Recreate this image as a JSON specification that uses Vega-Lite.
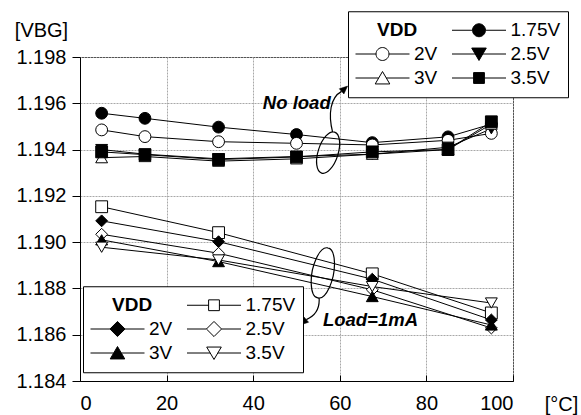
{
  "$schema": "https://vega.github.io/schema/vega-lite/v6.json",
  "width": 433,
  "height": 324,
  "autosize": {"type": "none"},
  "padding": {"left": 80, "top": 57, "right": 68, "bottom": 34},
  "background": "white",
  "config": {
    "font": "Liberation Sans",
    "view": {"stroke": "black", "strokeWidth": 1},
    "axis": {
      "labelFont": "Liberation Sans",
      "titleFont": "Liberation Sans",
      "labelFontSize": 20,
      "titleFontSize": 20,
      "titleFontWeight": "normal",
      "labelColor": "black",
      "titleColor": "black",
      "domainColor": "black",
      "tickColor": "black",
      "gridColor": "#a8a8a8",
      "gridDash": [2, 1],
      "gridWidth": 1
    },
    "legend": {
      "labelFont": "Liberation Sans",
      "labelFontSize": 19,
      "labelColor": "black",
      "labelAlign": "left",
      "direction": "horizontal"
    }
  },
  "datasets": {
    "noload": [
      {"vdd": "1.75V", "t": 5, "v": 1.19557}, {"vdd": "1.75V", "t": 15, "v": 1.19535}, {"vdd": "1.75V", "t": 32, "v": 1.19497}, {"vdd": "1.75V", "t": 50, "v": 1.19465}, {"vdd": "1.75V", "t": 67.5, "v": 1.1943}, {"vdd": "1.75V", "t": 85, "v": 1.19455}, {"vdd": "1.75V", "t": 95, "v": 1.1951},
      {"vdd": "2V", "t": 5, "v": 1.19485}, {"vdd": "2V", "t": 15, "v": 1.19456}, {"vdd": "2V", "t": 32, "v": 1.19434}, {"vdd": "2V", "t": 50, "v": 1.19427}, {"vdd": "2V", "t": 67.5, "v": 1.1942}, {"vdd": "2V", "t": 85, "v": 1.1944}, {"vdd": "2V", "t": 95, "v": 1.1947},
      {"vdd": "2.5V", "t": 5, "v": 1.194}, {"vdd": "2.5V", "t": 15, "v": 1.1938}, {"vdd": "2.5V", "t": 32, "v": 1.1936}, {"vdd": "2.5V", "t": 50, "v": 1.1937}, {"vdd": "2.5V", "t": 67.5, "v": 1.1938}, {"vdd": "2.5V", "t": 85, "v": 1.1941}, {"vdd": "2.5V", "t": 95, "v": 1.1949},
      {"vdd": "3V", "t": 5, "v": 1.19365}, {"vdd": "3V", "t": 15, "v": 1.1937}, {"vdd": "3V", "t": 32, "v": 1.1935}, {"vdd": "3V", "t": 50, "v": 1.1936}, {"vdd": "3V", "t": 67.5, "v": 1.1938}, {"vdd": "3V", "t": 85, "v": 1.194}, {"vdd": "3V", "t": 95, "v": 1.1951},
      {"vdd": "3.5V", "t": 5, "v": 1.1939}, {"vdd": "3.5V", "t": 15, "v": 1.19378}, {"vdd": "3.5V", "t": 32, "v": 1.19357}, {"vdd": "3.5V", "t": 50, "v": 1.19368}, {"vdd": "3.5V", "t": 67.5, "v": 1.1939}, {"vdd": "3.5V", "t": 85, "v": 1.194}, {"vdd": "3.5V", "t": 95, "v": 1.1952}
    ],
    "load": [
      {"vdd": "1.75V", "t": 5, "v": 1.19153}, {"vdd": "1.75V", "t": 32, "v": 1.19041}, {"vdd": "1.75V", "t": 67.5, "v": 1.18863}, {"vdd": "1.75V", "t": 95, "v": 1.18694},
      {"vdd": "2V", "t": 5, "v": 1.19092}, {"vdd": "2V", "t": 32, "v": 1.19002}, {"vdd": "2V", "t": 67.5, "v": 1.1884}, {"vdd": "2V", "t": 95, "v": 1.18664},
      {"vdd": "2.5V", "t": 5, "v": 1.19034}, {"vdd": "2.5V", "t": 32, "v": 1.18952}, {"vdd": "2.5V", "t": 67.5, "v": 1.18794}, {"vdd": "2.5V", "t": 95, "v": 1.18629},
      {"vdd": "3V", "t": 5, "v": 1.1901}, {"vdd": "3V", "t": 32, "v": 1.18916}, {"vdd": "3V", "t": 67.5, "v": 1.18765}, {"vdd": "3V", "t": 95, "v": 1.18642},
      {"vdd": "3.5V", "t": 5, "v": 1.18978}, {"vdd": "3.5V", "t": 32, "v": 1.18923}, {"vdd": "3.5V", "t": 67.5, "v": 1.18808}, {"vdd": "3.5V", "t": 95, "v": 1.18737}
    ]
  },
  "encoding": {
    "x": {
      "field": "t", "type": "quantitative",
      "scale": {"domain": [0, 100], "nice": false},
      "axis": {
        "values": [0, 20, 40, 60, 80, 100],
        "title": "[°C]",
        "grid": true,
        "tickSize": -6,
        "labelPadding": 18,
        "titleX": 481, "titleY": 29,
        "titleAlign": "center", "titleBaseline": "alphabetic"
      }
    },
    "y": {
      "field": "v", "type": "quantitative",
      "scale": {"domain": [1.184, 1.198], "zero": false, "nice": false},
      "axis": {
        "values": [1.184, 1.186, 1.188, 1.19, 1.192, 1.194, 1.196, 1.198],
        "format": ".3f",
        "title": "[VBG]",
        "grid": true,
        "tickSize": 8,
        "labelPadding": 6,
        "titleAngle": 0,
        "titleX": -39, "titleY": -27,
        "titleAlign": "center", "titleBaseline": "middle"
      }
    }
  },
  "layer": [
    {
      "data": {"name": "noload"},
      "mark": {"type": "line", "color": "black", "strokeWidth": 1},
      "encoding": {"detail": {"field": "vdd"}}
    },
    {
      "data": {"name": "load"},
      "mark": {"type": "line", "color": "black", "strokeWidth": 1},
      "encoding": {"detail": {"field": "vdd"}}
    },
    {
      "data": {"name": "noload"},
      "mark": {"type": "point", "filled": true, "stroke": "black", "strokeWidth": 1, "size": 140, "opacity": 1},
      "encoding": {
        "shape": {"field": "vdd", "legend": null, "scale": {"domain": ["1.75V", "2V", "2.5V", "3V", "3.5V"], "range": ["circle", "circle", "triangle-down", "triangle-up", "square"]}},
        "fill": {"field": "vdd", "legend": null, "scale": {"domain": ["1.75V", "2V", "2.5V", "3V", "3.5V"], "range": ["black", "white", "black", "white", "black"]}}
      }
    },
    {
      "data": {"name": "load"},
      "mark": {"type": "point", "filled": true, "stroke": "black", "strokeWidth": 1, "size": 140, "opacity": 1},
      "encoding": {
        "shape": {"field": "vdd", "legend": null, "scale": {"domain": ["1.75V", "2V", "2.5V", "3V", "3.5V"], "range": ["square", "diamond", "diamond", "triangle-up", "triangle-down"]}},
        "fill": {"field": "vdd", "legend": null, "scale": {"domain": ["1.75V", "2V", "2.5V", "3V", "3.5V"], "range": ["white", "black", "white", "black", "white"]}}
      }
    },
    {
      "data": {"name": "noload"},
      "mark": {"type": "point", "filled": true, "stroke": "black", "strokeWidth": 1, "size": 2916, "opacity": 0},
      "encoding": {
        "stroke": {"value": "black"},
        "shape": {
          "field": "vdd",
          "scale": {
            "domain": ["VDD", "1.75V", "2V", "2.5V", "3V", "3.5V"],
            "range": [
              "M0,0",
              "M-1,0H-0.24M0.24,0H1M-0.24,0A0.24,0.24 0 1,0 0.24,0A0.24,0.24 0 1,0 -0.24,0Z",
              "M-1,0H-0.24M0.24,0H1M-0.24,0A0.24,0.24 0 1,0 0.24,0A0.24,0.24 0 1,0 -0.24,0Z",
              "M-1,0H-0.14M0.14,0H1M-0.27,-0.22L0.27,-0.22L0,0.24Z",
              "M-1,0H-0.14M0.14,0H1M0,-0.24L0.27,0.22L-0.27,0.22Z",
              "M-1,0H-0.2M0.2,0H1M-0.2,-0.2H0.2V0.2H-0.2Z"
            ]
          },
          "legend": {
            "title": null, "orient": "none", "legendX": 268, "legendY": -45.75,
            "direction": "horizontal",
            "columns": 2, "columnPadding": 13.5, "rowPadding": 0, "clipHeight": 23.5,
            "symbolSize": 2916, "symbolStrokeWidth": 1, "symbolOpacity": 1,
            "labelAlign": "left",
            "labelOffset": {"expr": "datum.label === 'VDD' ? -33 : 4"},
            "labelFontWeight": {"expr": "datum.label === 'VDD' ? 'bold' : 'normal'"},
            "labelLimit": 300,
            "strokeColor": "black", "fillColor": "white", "padding": 7
          }
        },
        "fill": {
          "field": "vdd",
          "scale": {"domain": ["VDD", "1.75V", "2V", "2.5V", "3V", "3.5V"], "range": ["white", "black", "white", "black", "white", "black"]},
          "legend": {
            "title": null, "orient": "none", "legendX": 268, "legendY": -45.75,
            "direction": "horizontal",
            "columns": 2, "columnPadding": 13.5, "rowPadding": 0, "clipHeight": 23.5,
            "symbolSize": 2916, "symbolStrokeWidth": 1, "symbolOpacity": 1,
            "labelAlign": "left",
            "labelOffset": {"expr": "datum.label === 'VDD' ? -33 : 4"},
            "labelFontWeight": {"expr": "datum.label === 'VDD' ? 'bold' : 'normal'"},
            "labelLimit": 300,
            "strokeColor": "black", "fillColor": "white", "padding": 7
          }
        }
      }
    },
    {
      "data": {"name": "load"},
      "mark": {"type": "point", "filled": true, "stroke": "black", "strokeWidth": 1, "size": 2916, "opacity": 0},
      "encoding": {
        "stroke": {"value": "black"},
        "shape": {
          "field": "vdd",
          "scale": {
            "domain": ["VDD", "1.75V", "2V", "2.5V", "3V", "3.5V"],
            "range": [
              "M0,0",
              "M-1,0H-0.2M0.2,0H1M-0.2,-0.2H0.2V0.2H-0.2Z",
              "M-1,0H-0.28M0.28,0H1M0,-0.28L0.28,0L0,0.28L-0.28,0Z",
              "M-1,0H-0.28M0.28,0H1M0,-0.28L0.28,0L0,0.28L-0.28,0Z",
              "M-1,0H-0.14M0.14,0H1M0,-0.24L0.27,0.22L-0.27,0.22Z",
              "M-1,0H-0.14M0.14,0H1M-0.27,-0.22L0.27,-0.22L0,0.24Z"
            ]
          },
          "legend": {
            "title": null, "orient": "none", "legendX": 3, "legendY": 229.25,
            "direction": "horizontal",
            "columns": 2, "columnPadding": 13.5, "rowPadding": 0, "clipHeight": 23.5,
            "symbolSize": 2916, "symbolStrokeWidth": 1, "symbolOpacity": 1,
            "labelAlign": "left",
            "labelOffset": {"expr": "datum.label === 'VDD' ? -33 : 4"},
            "labelFontWeight": {"expr": "datum.label === 'VDD' ? 'bold' : 'normal'"},
            "labelLimit": 300,
            "strokeColor": "black", "fillColor": "white", "padding": 7
          }
        },
        "fill": {
          "field": "vdd",
          "scale": {"domain": ["VDD", "1.75V", "2V", "2.5V", "3V", "3.5V"], "range": ["white", "white", "black", "white", "black", "white"]},
          "legend": {
            "title": null, "orient": "none", "legendX": 3, "legendY": 229.25,
            "direction": "horizontal",
            "columns": 2, "columnPadding": 13.5, "rowPadding": 0, "clipHeight": 23.5,
            "symbolSize": 2916, "symbolStrokeWidth": 1, "symbolOpacity": 1,
            "labelAlign": "left",
            "labelOffset": {"expr": "datum.label === 'VDD' ? -33 : 4"},
            "labelFontWeight": {"expr": "datum.label === 'VDD' ? 'bold' : 'normal'"},
            "labelLimit": 300,
            "strokeColor": "black", "fillColor": "white", "padding": 7
          }
        }
      }
    },
    {
      "data": {"values": [{"t": 57.3, "v": 1.19387}]},
      "mark": {"type": "point", "size": 4, "filled": false, "stroke": "black", "strokeWidth": 1.2, "opacity": 1,
        "shape": "M6.5,-20.5A10,21.5 17.6 1,1 -6.5,20.5A10,21.5 17.6 1,1 6.5,-20.5ZM4.5,-20.5C0,-38 2,-55 13.5,-61.2"}
    },
    {
      "data": {"values": [{"t": 57.3, "v": 1.19387}]},
      "mark": {"type": "point", "size": 4, "filled": true, "fill": "black", "stroke": "black", "strokeWidth": 0.5, "opacity": 1,
        "shape": "M19.5,-66.5L15.8,-58.6L11.2,-63.8Z"}
    },
    {
      "data": {"values": [{"t": 56.08, "v": 1.18867}]},
      "mark": {"type": "point", "size": 4, "filled": false, "stroke": "black", "strokeWidth": 1.2, "opacity": 1,
        "shape": "M5,-25A10.5,25.5 11.3 1,1 -5,25A10.5,25.5 11.3 1,1 5,-25ZM-3.7,25.3C-3,36 -8,43 -16.5,46.7"}
    },
    {
      "data": {"values": [{"t": 56.08, "v": 1.18867}]},
      "mark": {"type": "point", "size": 4, "filled": true, "fill": "black", "stroke": "black", "strokeWidth": 0.5, "opacity": 1,
        "shape": "M-22.5,52L-14.2,49.3L-18.8,44.1Z"}
    },
    {
      "data": {"values": [{"t": 57.9, "v": 1.19601, "label": "No load"}]},
      "mark": {"type": "text", "align": "right", "baseline": "middle", "fontSize": 18.5, "fontWeight": "bold", "fontStyle": "italic", "color": "black"},
      "encoding": {"text": {"field": "label"}}
    },
    {
      "data": {"values": [{"t": 56.1, "v": 1.18664, "label": "Load=1mA"}]},
      "mark": {"type": "text", "align": "left", "baseline": "middle", "fontSize": 18.5, "fontWeight": "bold", "fontStyle": "italic", "color": "black"},
      "encoding": {"text": {"field": "label"}}
    }
  ],
  "resolve": {
    "scale": {"shape": "independent", "fill": "independent"},
    "legend": {"shape": "independent", "fill": "independent"}
  }
}
